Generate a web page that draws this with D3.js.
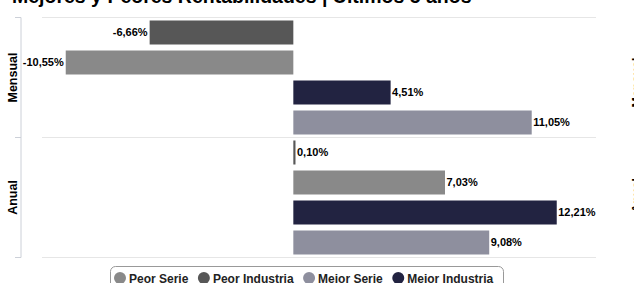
<!DOCTYPE html>
<html>
<head>
<meta charset="utf-8">
<script src="https://cdn.jsdelivr.net/npm/d3@7/dist/d3.min.js"></script>
<style>
  html, body { margin: 0; padding: 0; background: #fff; }
  svg { display: block; font-family: "Liberation Sans", Arial, Helvetica, sans-serif; }
</style>
</head>
<body>
<svg id="chart" width="634" height="283"></svg>
<script>
// ---- data ----
const title = "Mejores y Peores Rentabilidades | Últimos 5 años";
const categories = ["Mensual", "Anual"];
const legendOrder = ["Peor Serie", "Peor Industria", "Mejor Serie", "Mejor Industria"];
const barOrder = ["Peor Industria", "Peor Serie", "Mejor Industria", "Mejor Serie"];
const peorSerie = [-10.55, 7.03];
const peorIndustria = [-6.66, 0.10];
const mejorSerie = [11.05, 9.08];
const mejorIndustria = [4.51, 12.21];
const axisMin = -11.65;
const axisMax = 14.03;

// ---- build ----
const valuesBySeries = {
  "Peor Serie": peorSerie,
  "Peor Industria": peorIndustria,
  "Mejor Serie": mejorSerie,
  "Mejor Industria": mejorIndustria
};
const colors = {
  "Peor Serie": "#898989",
  "Peor Industria": "#575757",
  "Mejor Serie": "#8e8f9e",
  "Mejor Industria": "#222341"
};

const svg = d3.select("#chart");
const plot = { left: 42, right: 596, top: 17.5, bottom: 257.5 };

const x = d3.scaleLinear().domain([axisMin, axisMax]).range([plot.left, plot.right]);
const y = d3.scaleBand().domain(categories).range([plot.top, plot.bottom]);
const yInner = d3.scaleBand().domain(barOrder).range([0, y.bandwidth()])
  .paddingInner(0.2).paddingOuter(0.1);

// title (clipped at the top, as in the reference)
svg.append("text")
  .attr("x", 12).attr("y", 2.5)
  .attr("font-size", 19.5).attr("font-weight", "bold").attr("fill", "#000")
  .text(title);

// gridlines at category boundaries
const bounds = categories.map(c => y(c)).concat([y.range()[1]]);
svg.append("g").selectAll("line").data(bounds).join("line")
  .attr("x1", plot.left).attr("x2", plot.right)
  .attr("y1", d => d).attr("y2", d => d)
  .attr("stroke", "#e6e6e6").attr("stroke-width", 1);

// category axis line + ticks
const axisX = 21;
svg.append("line")
  .attr("x1", axisX).attr("x2", axisX)
  .attr("y1", plot.top).attr("y2", plot.bottom)
  .attr("stroke", "#ccd0d8").attr("stroke-width", 1);
svg.append("g").selectAll("line").data(bounds).join("line")
  .attr("x1", axisX - 6).attr("x2", axisX)
  .attr("y1", d => d).attr("y2", d => d)
  .attr("stroke", "#ccd0d8").attr("stroke-width", 1);

// category labels
svg.append("g").selectAll("text").data(categories).join("text")
  .attr("transform", d => `translate(17,${y(d) + y.bandwidth() / 2}) rotate(-90)`)
  .attr("text-anchor", "middle")
  .attr("font-size", 12.5).attr("font-weight", "bold").attr("fill", "#000")
  .text(d => d);

// clipped labels of the neighbouring chart at the right edge
svg.append("g").selectAll("text").data(categories).join("text")
  .attr("transform", (d, i) => `translate(641,${y(d) + y.bandwidth() / 2 + (i === 0 ? 5 : -2)}) rotate(-90)`)
  .attr("text-anchor", "middle")
  .attr("font-size", 12.5).attr("font-weight", "bold").attr("fill", "#000")
  .text(d => d);

// bars
const fmt = v => d3.format(".2f")(v).replace("\u2212", "-").replace(".", ",") + "%";
const rows = [];
categories.forEach((c, ci) => {
  barOrder.forEach(s => {
    rows.push({ cat: c, series: s, value: valuesBySeries[s][ci] });
  });
});

const g = svg.append("g");
g.selectAll("rect").data(rows).join("rect")
  .attr("x", d => Math.min(x(0), x(d.value)))
  .attr("width", d => Math.max(1.5, Math.abs(x(d.value) - x(0))))
  .attr("y", d => y(d.cat) + yInner(d.series))
  .attr("height", yInner.bandwidth())
  .attr("fill", d => colors[d.series]);

g.selectAll("text").data(rows).join("text")
  .attr("x", d => d.value < 0 ? x(d.value) - 2 : Math.max(x(d.value), x(0) + 2) + 1.5)
  .attr("y", d => y(d.cat) + yInner(d.series) + yInner.bandwidth() / 2)
  .attr("dy", "0.36em")
  .attr("text-anchor", d => d.value < 0 ? "end" : "start")
  .attr("font-size", 11).attr("font-weight", "bold").attr("fill", "#000")
  .attr("stroke", "#fff").attr("stroke-width", 2).attr("paint-order", "stroke")
  .text(d => fmt(d.value));

// legend
const legend = svg.append("g");
legend.append("rect")
  .attr("x", 110.5).attr("y", 266.5).attr("width", 393).attr("height", 30)
  .attr("rx", 5).attr("ry", 5)
  .attr("fill", "#fff").attr("stroke", "#999").attr("stroke-width", 1);
let cx = 120;
legendOrder.forEach(s => {
  legend.append("circle").attr("cx", cx).attr("cy", 278).attr("r", 6).attr("fill", colors[s]);
  const t = legend.append("text")
    .attr("x", cx + 9).attr("y", 282.5)
    .attr("font-size", 12).attr("font-weight", "bold").attr("fill", "#222")
    .text(s);
  const w = t.node().getComputedTextLength();
  cx = cx + 9 + w + 15.5;
});
</script>
</body>
</html>
